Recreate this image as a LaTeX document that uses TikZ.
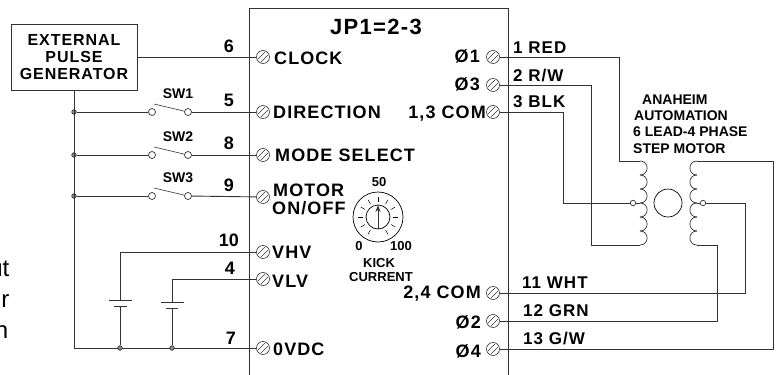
\documentclass[tikz,border=0pt]{standalone}
\usepackage{fontspec}
\setmainfont{Liberation Sans}
\newfontfamily\widefont[LetterSpace=6]{Liberation Sans}
\usetikzlibrary{arrows.meta}
\tikzset{
  wire/.style={line width=0.9pt,black!80},
  screw/.style={circle,draw=black!80,line width=0.6pt,minimum size=13pt,inner sep=0pt,
    path picture={
      \draw[line width=0.6pt] ([xshift=-5pt,yshift=-2pt]path picture bounding box.center) -- ([xshift=2pt,yshift=5pt]path picture bounding box.center);
      \draw[line width=0.6pt] ([xshift=-2pt,yshift=-5pt]path picture bounding box.center) -- ([xshift=5pt,yshift=2pt]path picture bounding box.center);
    }},
  contact/.style={circle,draw=black!80,fill=white,line width=0.7pt,minimum size=7pt,inner sep=0pt},
  junction/.style={circle,draw=black!80,fill=black!45,line width=0.7pt,minimum size=4.5pt,inner sep=0pt},
  label/.style={font=\fontsize{18}{18}\selectfont\widefont\bfseries,inner sep=0pt},
  number/.style={font=\fontsize{18}{18}\selectfont\bfseries,inner sep=0pt},
  wirename/.style={font=\fontsize{17}{17}\selectfont\widefont\bfseries,inner sep=0pt},
  small/.style={font=\fontsize{14}{14}\selectfont\bfseries,inner sep=0pt},
  tiny/.style={font=\fontsize{13}{13}\selectfont\bfseries,inner sep=0pt},
  cut/.style={anchor=base east,inner sep=0pt,font=\fontsize{24}{24}\selectfont},
  plate/.style={line width=0.9pt,black!80}
}
\begin{document}
\begin{tikzpicture}[x=1pt,y=-1pt]
  \useasboundingbox (0,0) rectangle (780,375);
  % text running in from the edge
  \node[cut] (cuta) at (9.5,276) {ut};
  \node[cut] (cutb) at (9.5,307) {r};
  \node[cut] (cutc) at (8.5,338) {n};
  % driver box, open at the bottom
  \draw[wire] (249,375) -- (249,8) -- (508,8) -- (508,375);
  \node[font=\fontsize{22}{22}\selectfont\widefont\bfseries,inner sep=0pt] (jp) at (376,27) {JP1=2-3};
  % pulse generator
  \node[draw=black!80,line width=1pt,minimum width=126pt,minimum height=66pt,inner sep=0pt,align=center,
    font=\fontsize{16}{17}\selectfont\widefont\bfseries] (gen) at (74,57) {EXTERNAL\\PULSE\\GENERATOR};
  % left terminals
  \foreach \name/\y in {clock/57,dir/112,mode/155,motor/197,vhv/252,vlv/279,ovdc/348}
    \node[screw] (\name) at (263,\y) {};
  % right terminals
  \foreach \name/\y in {pa/57,pc/85,coma/112,comb/293,pb/321,pd/349}
    \node[screw] (\name) at (493,\y) {};
  \node[label,anchor=west] (lclock) at (274,58) {CLOCK};
  \node[label,anchor=west] (ldir) at (273,112) {DIRECTION};
  \node[label,anchor=west] (lmode) at (275,155) {MODE SELECT};
  \node[label,anchor=west] (lmotor) at (273,190) {MOTOR};
  \node[label,anchor=west] (lonoff) at (272,208) {ON/OFF};
  \node[label,anchor=west] (lvhv) at (272,252) {VHV};
  \node[label,anchor=west] (lvlv) at (272,281) {VLV};
  \node[label,anchor=west] (lovdc) at (273,349) {0VDC};
  \node[label,anchor=east] (lpa) at (480,56) {Ø1};
  \node[label,anchor=east] (lpc) at (480,84) {Ø3};
  \node[label,anchor=east] (lcoma) at (486,114) {1,3 COM};
  \node[label,anchor=east] (lcomb) at (481,294) {2,4 COM};
  \node[label,anchor=east] (lpb) at (481,322) {Ø2};
  \node[label,anchor=east] (lpd) at (481,351) {Ø4};
  % pins
  \node[number] (nclock) at (229,46) {6};
  \node[number] (ndir) at (229,100) {5};
  \node[number] (nmode) at (229,143) {8};
  \node[number] (nmotor) at (229,185) {9};
  \node[number] (nvhv) at (229,240) {10};
  \node[number] (nvlv) at (230,268) {4};
  \node[number] (novdc) at (231,338) {7};
  % switches
  \foreach \i/\name/\y in {1/dir/112,2/mode/155,3/motor/196} {
    \node[junction] (j\i) at (74,\y) {};
    \node[contact] (sa\i) at (152,\y) {};
    \node[contact] (sb\i) at (188,\y) {};
    \node[small] (sw\i) at (178,\y-18) {SW\i};
    \draw[wire,line width=0.6pt] (154,\y-8) -- (sb\i);
    \draw[wire] (j\i) -- (sa\i);
    \draw[wire] (sb\i) -- (\name);
  }
  \draw[wire] (gen) -- (clock);
  % return rail
  \coordinate (corner) at (74,348);
  \draw[wire] (gen.south -| corner) -- (corner) -- (ovdc);
  % supplies
  \node[junction] (ja) at (120,348) {};
  \node[junction] (jb) at (172,348) {};
  \coordinate (va) at (120,252);
  \coordinate (vb) at (172,279);
  \draw[wire] (vhv) -- (va) -- (120,300);
  \draw[plate] (109,300) -- (132,300);
  \draw[plate] (114,306) -- (127,306);
  \draw[wire] (120,306) -- (ja);
  \draw[wire] (vlv) -- (vb) -- (172,302);
  \draw[plate] (161,302) -- (184,302);
  \draw[plate] (166,308) -- (178,308);
  \draw[wire] (172,308) -- (jb);
  % dial
  \node[circle,draw,line width=0.7pt,minimum size=50pt,inner sep=0pt] (dial) at (378,217) {};
  \node[circle,draw,line width=0.7pt,minimum size=24pt,inner sep=0pt] (knob) at (378,217) {};
  \foreach \a in {-60,-30,...,240}
    \draw[line width=0.5pt] (378,217) ++(\a:15 and -15) -- ++(\a:5 and -5);
  \draw[wire,-{Stealth[length=7pt,width=5pt]}] (378,229) -- (378,205);
  \node[tiny] (dfifty) at (379,182) {50};
  \node[tiny] (dzero) at (359,246) {0};
  \node[tiny] (dhundred) at (401,246) {100};
  \node[tiny] (kick) at (379,263) {KICK};
  \node[tiny] (curr) at (381,277) {CURRENT};
  % motor
  \node[small,anchor=west] (ma) at (642,100) {ANAHEIM};
  \node[small,anchor=west] (mb) at (634,116) {AUTOMATION};
  \node[small,anchor=west] (mc) at (633,132) {6 LEAD-4 PHASE};
  \node[small,anchor=west] (md) at (633,149) {STEP MOTOR};
  \foreach \y in {161,175,189,203,217,231} {
    \draw[wire,line width=0.7pt] (640,\y) .. controls (649.5,\y) and (649.5,\y+14) .. (640,\y+14);
    \draw[wire,line width=0.7pt] (697,\y) .. controls (687.5,\y) and (687.5,\y+14) .. (697,\y+14);
  }
  \node[circle,draw,line width=0.7pt,minimum size=28pt,inner sep=0pt] (rotor) at (668,203) {};
  \node[contact,minimum size=5.5pt] (ta) at (633,203) {};
  \node[contact,minimum size=5.5pt] (tb) at (703,203) {};
  \coordinate (la) at (640,161);
  \coordinate (lb) at (640,203);
  \coordinate (lc) at (640,245);
  \coordinate (ra) at (697,161);
  \coordinate (rb) at (697,203);
  \coordinate (rc) at (697,245);
  \draw[wire,line width=0.7pt] (ta) -- (lb);
  \draw[wire,line width=0.7pt] (tb) -- (rb);
  % leads
  \draw[wire] (pa) -- (619,57) -- (619,161) -- (la);
  \draw[wire] (pc) -- (591,85) -- (591,245) -- (lc);
  \draw[wire] (coma) -- (563,112) -- (563,203) -- (ta);
  \draw[wire] (comb) -- (745,293) -- (745,203) -- (tb);
  \draw[wire] (pb) -- (717,321) -- (717,245) -- (rc);
  \draw[wire] (pd) -- (773,349) -- (773,161) -- (ra);
  \node[wirename,anchor=west] (wa) at (513,48) {1 RED};
  \node[wirename,anchor=west] (wb) at (513,76) {2 R/W};
  \node[wirename,anchor=west] (wc) at (513,102) {3 BLK};
  \node[wirename,anchor=west] (wd) at (522,283) {11 WHT};
  \node[wirename,anchor=west] (we) at (523,311) {12 GRN};
  \node[wirename,anchor=west] (wf) at (523,339) {13 G/W};
\end{tikzpicture}
\end{document}
